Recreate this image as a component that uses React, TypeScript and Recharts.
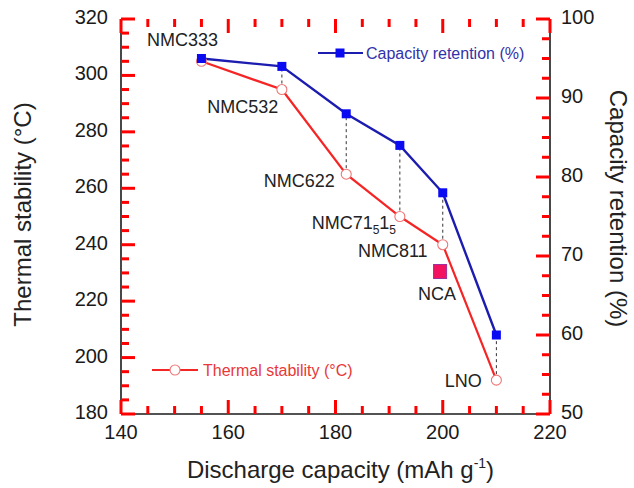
import React from 'react';
import {
  ComposedChart,
  Line,
  Scatter,
  XAxis,
  YAxis,
  ReferenceLine,
  LabelList,
  Legend,
  Label,
} from 'recharts';

const FONT = '"Liberation Sans", Arial, Helvetica, sans-serif';

// ---- data ----
const capacity = [155, 170, 182, 192, 200, 210];
const thermalStability = [305, 295, 265, 250, 240, 192];
const capacityRetention = [95, 94, 88, 84, 78, 60];
const materials = ['NMC333', 'NMC532', 'NMC622', 'NMC71₅1₅', 'NMC811', 'LNO'];

const ncaCapacity = [199.5];
const ncaThermal = [230.5];
const ncaNames = ['NCA'];

// ---- ticks ----
const xTicks = [140, 145, 150, 155, 160, 165, 170, 175, 180, 185, 190, 195, 200, 205, 210, 215, 220];
const xMajor = [140, 160, 180, 200, 220];
const leftTicks = [
  180, 185, 190, 195, 200, 205, 210, 215, 220, 225, 230, 235, 240, 245, 250, 255, 260, 265, 270, 275, 280, 285,
  290, 295, 300, 305, 310, 315, 320,
];
const leftMajor = [180, 200, 220, 240, 260, 280, 300, 320];
const rightTicks = [50, 52.5, 55, 57.5, 60, 62.5, 65, 67.5, 70, 72.5, 75, 77.5, 80, 82.5, 85, 87.5, 90, 92.5, 95, 97.5, 100];
const rightMajor = [50, 60, 70, 80, 90, 100];

const LEFT_DOMAIN = [180, 320];
const RIGHT_DOMAIN = [50, 100];
const X_DOMAIN = [140, 220];

const toLeftScale = (r: number) =>
  LEFT_DOMAIN[0] + ((r - RIGHT_DOMAIN[0]) * (LEFT_DOMAIN[1] - LEFT_DOMAIN[0])) / (RIGHT_DOMAIN[1] - RIGHT_DOMAIN[0]);

const data = capacity.map((c, i) => ({
  capacity: c,
  thermal: thermalStability[i],
  retention: capacityRetention[i],
  name: materials[i],
}));

const ncaData = ncaCapacity.map((c, i) => ({ capacity: c, thermal: ncaThermal[i], name: ncaNames[i] }));

// tick-mark anchor points on the frame (built from the tick lists)
const bottomTickPts = xTicks.map((t) => ({ capacity: t, thermal: LEFT_DOMAIN[0], major: xMajor.includes(t) }));
const topTickPts = xTicks.map((t) => ({ capacity: t, thermal: LEFT_DOMAIN[1], major: xMajor.includes(t) }));
const leftTickPts = leftTicks.map((t) => ({ capacity: X_DOMAIN[0], thermal: t, major: leftMajor.includes(t) }));
const rightTickPts = rightTicks.map((t) => ({ capacity: X_DOMAIN[1], retention: t, major: rightMajor.includes(t) }));

// ---- styles ----
const RED = '#f52525';
const BLUE_LINE = '#1c1cb0';
const BLUE_MARK = '#0b0bf2';
const AXIS = '#1a1a1a';
const TICK_COLOR = '#ff0000';
const MAJOR_LEN = 14;
const MINOR_LEN = 8;
const TICK_W = 3;
const AXIS_LINE = { stroke: AXIS, strokeWidth: 1.6 };
const TICK_FS = 20;
const LABEL_FS = 18;

// label offsets (pixels) relative to the red points
const labelOffsets = [
  [-19, -22],
  [-39, 17],
  [-47, 6],
  [-46, 6],
  [-50, 6],
  [-33, 0],
];
const ncaOffset = [-3, 22];

// ---- tick labels ----
const BottomLabel = (props: any) => (
  <text x={props.x} y={props.y + 25} textAnchor="middle" fontSize={TICK_FS} fill={AXIS} fontFamily={FONT}>
    {props.payload.value}
  </text>
);
const LeftLabel = (props: any) => (
  <text x={props.x - 13} y={props.y + 5} textAnchor="end" fontSize={TICK_FS} fill={AXIS} fontFamily={FONT}>
    {props.payload.value}
  </text>
);
const RightLabel = (props: any) => (
  <text x={props.x + 11} y={props.y + 5} textAnchor="start" fontSize={TICK_FS} fill={AXIS} fontFamily={FONT}>
    {props.payload.value}
  </text>
);

// ---- inward tick marks drawn as scatter shapes ----
const tickLen = (p: any) => (p.payload && p.payload.major ? MAJOR_LEN : MINOR_LEN);
const BottomTickMark = (p: any) =>
  p.cx == null ? <g /> : <line x1={p.cx} x2={p.cx} y1={p.cy} y2={p.cy - tickLen(p)} stroke={TICK_COLOR} strokeWidth={TICK_W} />;
const TopTickMark = (p: any) =>
  p.cx == null ? <g /> : <line x1={p.cx} x2={p.cx} y1={p.cy} y2={p.cy + tickLen(p)} stroke={TICK_COLOR} strokeWidth={TICK_W} />;
const LeftTickMark = (p: any) =>
  p.cx == null ? <g /> : <line x1={p.cx} x2={p.cx + tickLen(p)} y1={p.cy} y2={p.cy} stroke={TICK_COLOR} strokeWidth={TICK_W} />;
const RightTickMark = (p: any) =>
  p.cx == null ? <g /> : <line x1={p.cx} x2={p.cx - tickLen(p)} y1={p.cy} y2={p.cy} stroke={TICK_COLOR} strokeWidth={TICK_W} />;

const SquareDot = (props: any) => {
  const { cx, cy } = props;
  if (cx == null || cy == null) return <g />;
  return <rect x={cx - 4.5} y={cy - 4.5} width={9} height={9} fill={BLUE_MARK} />;
};

const CircleDot = (props: any) => {
  const { cx, cy } = props;
  if (cx == null || cy == null) return <g />;
  return <circle cx={cx} cy={cy} r={5} fill="#fff" stroke="#e77" strokeWidth={1.1} />;
};

const NcaShape = (props: any) => {
  const { cx, cy } = props;
  if (cx == null || cy == null) return <g />;
  return <rect x={cx - 6.5} y={cy - 7} width={13} height={14} fill="#f3125f" stroke="#a0309a" strokeWidth={1} />;
};

// render text with "₅" characters as subscripts
const renderName = (name: string) => {
  const parts: React.ReactNode[] = [];
  let buf = '';
  let k = 0;
  let sub = false;
  for (const ch of name) {
    if (ch === '₅') {
      if (buf) parts.push(<tspan key={k++} dy={sub ? -5 : 0}>{buf}</tspan>);
      parts.push(
        <tspan key={k++} dy={5} fontSize={12}>
          5
        </tspan>
      );
      buf = '';
      sub = true;
    } else {
      buf += ch;
    }
  }
  if (buf) parts.push(<tspan key={k++} dy={sub ? -5 : 0}>{buf}</tspan>);
  return parts;
};

const MaterialLabel = (props: any) => {
  const { x, y, value, index } = props;
  const off = labelOffsets[index] || [0, 0];
  return (
    <text
      x={x + off[0]}
      y={y + off[1] + LABEL_FS * 0.358}
      textAnchor="middle"
      fontSize={LABEL_FS}
      fill="#222"
      fontFamily={FONT}
    >
      {renderName(String(value))}
    </text>
  );
};

const NcaLabel = (props: any) => {
  const { x, y, width, height, value } = props;
  const cx = x + (width || 0) / 2;
  const cy = y + (height || 0) / 2;
  return (
    <text
      x={cx + ncaOffset[0]}
      y={cy + ncaOffset[1] + LABEL_FS * 0.358}
      textAnchor="middle"
      fontSize={LABEL_FS}
      fill="#222"
      fontFamily={FONT}
    >
      {value}
    </text>
  );
};

const LegendContent = () => (
  <svg width={634} height={488} style={{ position: 'absolute', left: 0, top: 0, overflow: 'visible' }}>
    <g>
      <line x1={318} x2={363} y1={53} y2={53} stroke={BLUE_LINE} strokeWidth={2.2} />
      <rect x={335.5} y={48.5} width={9} height={9} fill={BLUE_MARK} />
      <text x={366} y={58.5} fontSize={16} fill="#3232aa" fontFamily={FONT}>
        Capacity retention (%)
      </text>
    </g>
    <g>
      <line x1={152} x2={198} y1={370} y2={370} stroke={RED} strokeWidth={2.2} />
      <circle cx={175} cy={370} r={5} fill="#fff" stroke="#e77" strokeWidth={1.1} />
      <text x={203} y={375.5} fontSize={16} fill="#e83838" fontFamily={FONT}>
        Thermal stability (°C)
      </text>
    </g>
  </svg>
);

export default function App() {
  return (
    <div style={{ position: 'absolute', left: 0, top: 0, width: 634, height: 488, background: '#fff' }}>
      <ComposedChart
        width={634}
        height={488}
        data={data}
        margin={{ top: 19, right: 24, bottom: 34, left: 61 }}
      >
        <XAxis
          dataKey="capacity"
          type="number"
          domain={X_DOMAIN}
          ticks={xMajor}
          interval={0}
          height={40}
          tickSize={0}
          tickMargin={0}
          tickLine={false}
          tick={BottomLabel}
          axisLine={AXIS_LINE}
        >
          <Label
            content={(p: any) => {
              const vb = p.viewBox;
              return (
                <text
                  x={vb.x + vb.width / 2 + 5}
                  y={478}
                  textAnchor="middle"
                  fontSize={24}
                  fill="#222"
                  fontFamily={FONT}
                >
                  Discharge capacity (mAh g
                  <tspan dy={-10} fontSize={14}>
                    -1
                  </tspan>
                  <tspan dy={10}>)</tspan>
                </text>
              );
            }}
          />
        </XAxis>
        <XAxis
          xAxisId="top"
          dataKey="capacity"
          type="number"
          orientation="top"
          domain={X_DOMAIN}
          ticks={xMajor}
          interval={0}
          height={0}
          tickLine={false}
          tick={false}
          axisLine={AXIS_LINE}
        />
        <YAxis
          yAxisId="left"
          type="number"
          domain={LEFT_DOMAIN}
          ticks={leftMajor}
          interval={0}
          width={60}
          tickSize={0}
          tickMargin={0}
          tickLine={false}
          tick={LeftLabel}
          axisLine={AXIS_LINE}
        >
          <Label
            content={(p: any) => {
              const vb = p.viewBox;
              const cx = vb.x - 39;
              const cy = vb.y + vb.height / 2 - 2;
              return (
                <text
                  x={cx}
                  y={cy}
                  transform={`rotate(-90, ${cx}, ${cy})`}
                  textAnchor="middle"
                  dominantBaseline="central"
                  fontSize={24}
                  fill="#222"
                  fontFamily={FONT}
                >
                  Thermal stability (°C)
                </text>
              );
            }}
          />
        </YAxis>
        <YAxis
          yAxisId="right"
          orientation="right"
          type="number"
          domain={RIGHT_DOMAIN}
          ticks={rightMajor}
          interval={0}
          width={60}
          tickSize={0}
          tickMargin={0}
          tickLine={false}
          tick={RightLabel}
          axisLine={AXIS_LINE}
        >
          <Label
            content={(p: any) => {
              const vb = p.viewBox;
              const cx = vb.x + 68;
              const cy = vb.y + vb.height / 2 - 8;
              return (
                <text
                  x={cx}
                  y={cy}
                  transform={`rotate(90, ${cx}, ${cy})`}
                  textAnchor="middle"
                  dominantBaseline="central"
                  fontSize={24}
                  fill="#222"
                  fontFamily={FONT}
                >
                  Capacity retention (%)
                </text>
              );
            }}
          />
        </YAxis>

        {/* dashed connectors between the two series */}
        {data.map((d) => (
          <ReferenceLine
            key={`dash-${d.capacity}`}
            yAxisId="left"
            segment={[
              { x: d.capacity, y: d.thermal },
              { x: d.capacity, y: toLeftScale(d.retention) },
            ]}
            stroke="#333"
            strokeWidth={1}
            strokeDasharray="3 3"
          />
        ))}

        {/* inward tick marks on all four sides */}
        <Scatter
          yAxisId="left"
          data={bottomTickPts}
          dataKey="thermal"
          legendType="none"
          shape={<BottomTickMark />}
          isAnimationActive={false}
        />
        <Scatter
          yAxisId="left"
          data={topTickPts}
          dataKey="thermal"
          legendType="none"
          shape={<TopTickMark />}
          isAnimationActive={false}
        />
        <Scatter
          yAxisId="left"
          data={leftTickPts}
          dataKey="thermal"
          legendType="none"
          shape={<LeftTickMark />}
          isAnimationActive={false}
        />
        <Scatter
          yAxisId="right"
          data={rightTickPts}
          dataKey="retention"
          legendType="none"
          shape={<RightTickMark />}
          isAnimationActive={false}
        />

        <Line
          yAxisId="left"
          dataKey="thermal"
          name="Thermal stability (°C)"
          stroke={RED}
          strokeWidth={2.2}
          dot={<CircleDot />}
          activeDot={false}
          isAnimationActive={false}
        >
          <LabelList dataKey="name" content={<MaterialLabel />} />
        </Line>
        <Line
          yAxisId="right"
          dataKey="retention"
          name="Capacity retention (%)"
          stroke={BLUE_LINE}
          strokeWidth={2.4}
          dot={<SquareDot />}
          activeDot={false}
          isAnimationActive={false}
        />
        <Scatter
          yAxisId="left"
          data={ncaData}
          dataKey="thermal"
          name="NCA"
          legendType="none"
          shape={<NcaShape />}
          isAnimationActive={false}
        >
          <LabelList dataKey="name" content={<NcaLabel />} />
        </Scatter>
        <Legend
          layout="horizontal"
          verticalAlign="middle"
          align="center"
          content={<LegendContent />}
          wrapperStyle={{ position: 'absolute', left: 0, top: 0, width: 634, height: 488, margin: 0, pointerEvents: 'none' }}
        />
      </ComposedChart>
    </div>
  );
}
